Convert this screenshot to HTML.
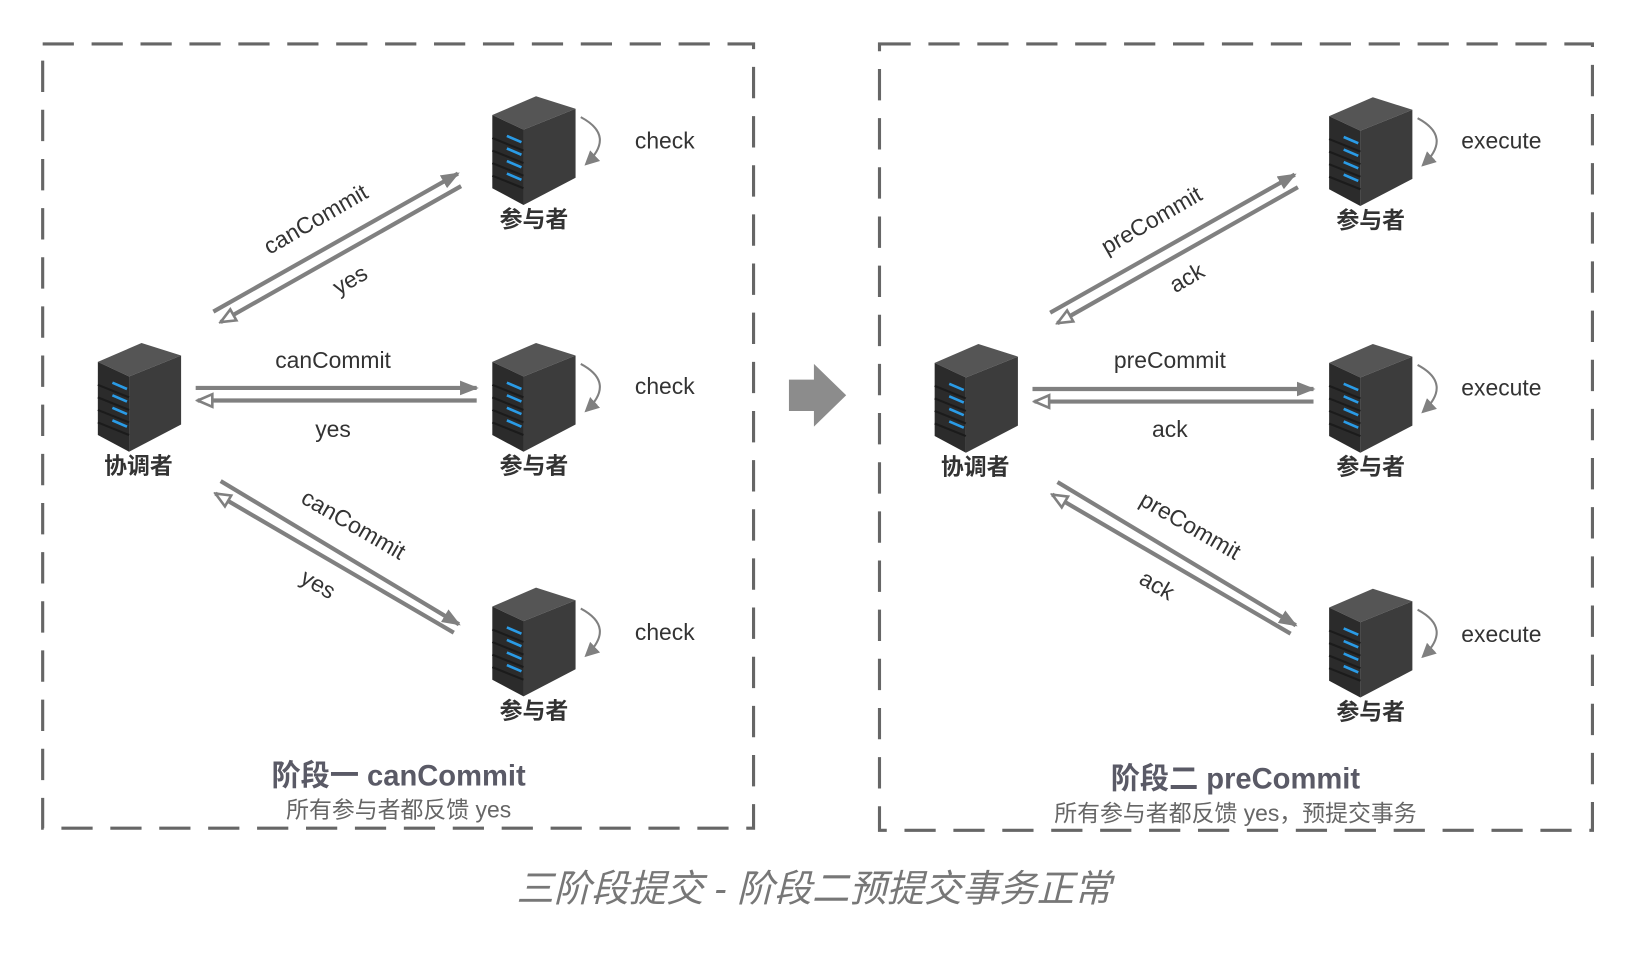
<!DOCTYPE html>
<html><head><meta charset="utf-8"><style>
html,body{margin:0;padding:0;background:#fff;}
svg{display:block;}
text{font-family:"Liberation Sans","Noto Sans CJK SC",sans-serif;}
</style></head><body>
<svg width="1632" height="961" viewBox="0 0 1568 919" preserveAspectRatio="none" xmlns="http://www.w3.org/2000/svg">
<defs>
<g id="srv">
<polygon points="0,18 42,0 80,12 30,32" fill="#555"/>
<polygon points="30,32 80,12 80,78 30,104" fill="#3c3c3c"/>
<polygon points="0,18 30,32 30,104 0,88" fill="#2b2b2b"/>
<g stroke="#1b1b1b" stroke-width="2">
<line x1="0" y1="40" x2="30" y2="52"/><line x1="0" y1="52" x2="30" y2="64"/><line x1="0" y1="64" x2="30" y2="76"/><line x1="0" y1="76" x2="30" y2="88"/></g>
<g stroke="#2a9be6" stroke-width="2.5">
<line x1="14" y1="38" x2="28" y2="44"/><line x1="14" y1="50" x2="28" y2="56"/><line x1="14" y1="62" x2="28" y2="68"/><line x1="14" y1="74" x2="28" y2="80"/></g>
</g>
<marker id="fa2" markerWidth="18" markerHeight="14" refX="16" refY="7" orient="auto" markerUnits="userSpaceOnUse"><path d="M0,0 L18,7 L0,14 z" fill="#808080"/></marker>
<marker id="oa" markerWidth="18" markerHeight="16" refX="16" refY="8" orient="auto" markerUnits="userSpaceOnUse"><path d="M2,2 L16,8 L2,14 z" fill="#fff" stroke="#808080" stroke-width="2.5"/></marker>
<marker id="ca" markerWidth="14" markerHeight="14" refX="12" refY="7" orient="auto" markerUnits="userSpaceOnUse"><path d="M0,0 L14,7 L0,14 z" fill="#808080"/></marker>
<g id="panel">
<use href="#srv" x="94" y="328"/>
<use href="#srv" x="473" y="92"/>
<use href="#srv" x="473" y="328"/>
<use href="#srv" x="473" y="562"/>
<g font-weight="bold" font-size="22" fill="#333" text-anchor="middle">
<text x="133" y="453">协调者</text>
<text x="513" y="217">参与者</text>
<text x="513" y="453">参与者</text>
<text x="513" y="687">参与者</text>
</g>
<g fill="none" stroke="#808080" stroke-width="2" marker-end="url(#ca)">
<path d="M558,112 Q592,130 563,157"/>
<path d="M558,348 Q592,366 563,393"/>
<path d="M558,582 Q592,600 563,627"/>
</g>
<g stroke="#808080" stroke-width="4" fill="none">
<line x1="205" y1="298" x2="440" y2="166" marker-end="url(#fa2)"/>
<line x1="443" y1="178" x2="212" y2="308" marker-end="url(#oa)"/>
<line x1="188" y1="371" x2="458" y2="371" marker-end="url(#fa2)"/>
<line x1="458" y1="383" x2="190" y2="383" marker-end="url(#oa)"/>
<line x1="212" y1="460" x2="441" y2="597" marker-end="url(#fa2)"/>
<line x1="436" y1="605" x2="207" y2="472" marker-end="url(#oa)"/>
</g>
</g>
</defs>
<g stroke="#666" stroke-width="3" fill="none" stroke-dasharray="30,17">
<rect x="41" y="42" width="683" height="750"/>
<rect x="845" y="42" width="685" height="752"/>
</g>
<use href="#panel"/>
<use href="#panel" x="804" y="1"/>
<g font-size="22" fill="#333">
<text x="610" y="142">check</text><text x="610" y="377">check</text><text x="610" y="612">check</text>
<text x="1404" y="142">execute</text><text x="1404" y="378">execute</text><text x="1404" y="614">execute</text>
</g>
<g font-size="22" fill="#333" text-anchor="middle">
<text transform="translate(307,216) rotate(-30)">canCommit</text>
<text transform="translate(340,274) rotate(-30)">yes</text>
<text x="320" y="352">canCommit</text>
<text x="320" y="418">yes</text>
<text transform="translate(336,508) rotate(30)">canCommit</text>
<text transform="translate(302,565) rotate(30)">yes</text>
<text transform="translate(1110,217) rotate(-30)">preCommit</text>
<text transform="translate(1144,272) rotate(-30)">ack</text>
<text x="1124" y="352">preCommit</text>
<text x="1124" y="418">ack</text>
<text transform="translate(1140,509) rotate(30)">preCommit</text>
<text transform="translate(1108,566) rotate(30)">ack</text>
</g>
<g text-anchor="middle">
<text x="383" y="751" font-size="28" font-weight="bold" fill="#5a5a66">阶段一 canCommit</text>
<text x="383" y="782" font-size="22" fill="#666">所有参与者都反馈 yes</text>
<text x="1187" y="754" font-size="28" font-weight="bold" fill="#5a5a66">阶段二 preCommit</text>
<text x="1187" y="785" font-size="22" fill="#666">所有参与者都反馈 yes，预提交事务</text>
<text x="782" y="862" font-size="36" font-style="italic" fill="#777">三阶段提交 - 阶段二预提交事务正常</text>
</g>
<polygon points="758,363 782,363 782,348 813,378 782,408 782,393 758,393" fill="#8c8c8c"/>
</svg>
</body></html>
